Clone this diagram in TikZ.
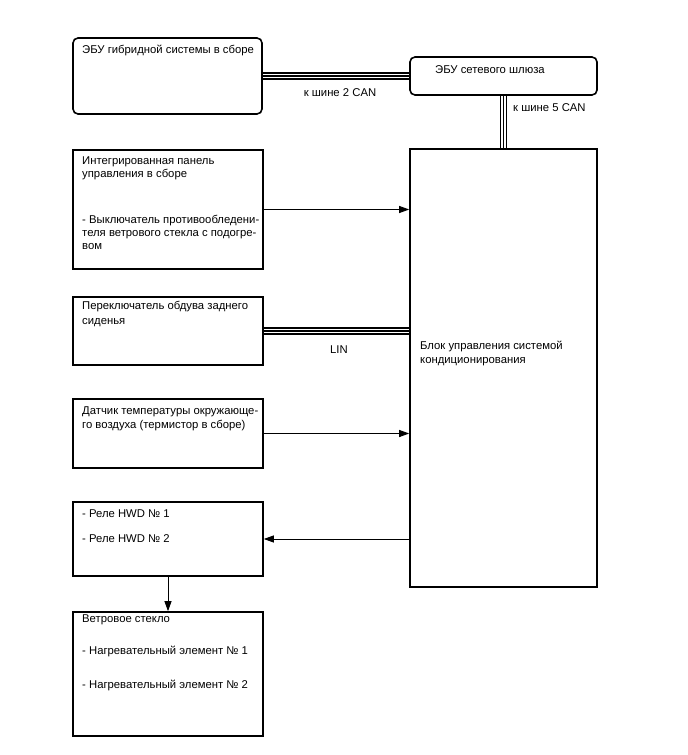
\documentclass[tikz,border=0pt]{standalone}
\usepackage{fontspec}
\setmainfont{Liberation Sans}
\usetikzlibrary{arrows.meta}
\begin{document}
\begin{tikzpicture}[x=1pt,y=-1pt,
  box/.style={draw=black, line width=1.6pt, fill=white, inner sep=0pt},
  txt/.style={anchor=base west, inner sep=0pt, font=\fontsize{11.3}{13}\selectfont},
  lbl/.style={anchor=base, inner sep=0pt, font=\fontsize{11.3}{13}\selectfont},
  arr/.style={draw=black, line width=0.9pt, -{Triangle[length=10pt,width=7pt]}},
  busA/.style={draw=black, line width=7.8pt},
  busB/.style={draw=white, line width=4.6pt},
  busC/.style={draw=black, line width=1.4pt}]
\useasboundingbox[fill=white] (0,0) rectangle (688,755);
% boxes
\node[box, rounded corners=5pt, minimum width=189pt, minimum height=76pt] (ecu) at (167.5,76) {};
\node[box, rounded corners=5pt, minimum width=187pt, minimum height=38pt] (gw) at (503.5,76) {};
\node[box, minimum width=187pt, minimum height=438pt] (ac) at (503.5,368) {};
\node[box, minimum width=190pt, minimum height=119pt] (panel) at (168,209.5) {};
\node[box, minimum width=190pt, minimum height=68pt] (rear) at (168,331) {};
\node[box, minimum width=190pt, minimum height=69pt] (sens) at (168,433.5) {};
\node[box, minimum width=190pt, minimum height=74pt] (relay) at (168,539) {};
\node[box, minimum width=190pt, minimum height=124pt] (ws) at (168,674) {};
% buses
\foreach \s in {busA,busB,busC}{
  \draw[\s] (ecu.east) -- (gw.west);
  \draw[\s] (gw.south) -- (ac.north);
  \draw[\s] (rear.east) -- (rear.east -| ac.west);
}
% arrows
\draw[arr] (panel.east) -- (panel.east -| ac.west);
\draw[arr] (sens.east) -- (sens.east -| ac.west);
\draw[arr] (relay.east -| ac.west) -- (relay.east);
\draw[arr] (relay.south) -- (ws.north);
% texts
\node[txt] (t1) at (82,53) {ЭБУ гибридной системы в сборе};
\node[txt] (t2) at (435,73) {ЭБУ сетевого шлюза};
\node[lbl] (c2) at (340,96) {к шине 2 CAN};
\node[txt] (c5) at (513,111) {к шине 5 CAN};
\node[txt] (p1) at (82,164) {Интегрированная панель};
\node[txt] (p2) at (82,177) {управления в сборе};
\node[txt] (p3) at (82,223) {- Выключатель противообледени-};
\node[txt] (p4) at (82,236) {теля ветрового стекла с подогре-};
\node[txt] (p5) at (82,249) {вом};
\node[txt] (r1) at (82,309) {Переключатель обдува заднего};
\node[txt] (r2) at (82,324) {сиденья};
\node[lbl] (lin) at (339,353) {LIN};
\node[txt] (a1) at (420,349) {Блок управления системой};
\node[txt] (a2) at (420,363) {кондиционирования};
\node[txt] (s1) at (82,414) {Датчик температуры окружающе-};
\node[txt] (s2) at (82,428) {го воздуха (термистор в сборе)};
\node[txt] (h1) at (82,517) {- Реле HWD № 1};
\node[txt] (h2) at (82,542) {- Реле HWD № 2};
\node[txt] (w1) at (82,622) {Ветровое стекло};
\node[txt] (w2) at (82,654) {- Нагревательный элемент № 1};
\node[txt] (w3) at (82,688) {- Нагревательный элемент № 2};
\end{tikzpicture}
\end{document}
